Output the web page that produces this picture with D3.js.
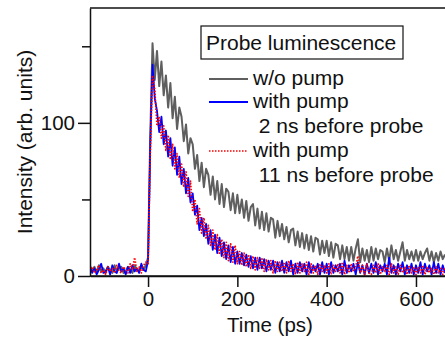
<!DOCTYPE html>
<html>
<head>
<meta charset="utf-8">
<script src="https://cdn.jsdelivr.net/npm/d3@7"></script>
<style>
  body { margin: 0; background: #fff; }
  svg { display: block; font-family: "Liberation Sans", Arial, sans-serif; }
</style>
</head>
<body>
<div class="chart"></div>
<script>

// sample times (ps)
var times = [
  -130,-125,-120,-115,-110,-105,-100,-95,-90,-85,-80,-75,-70,-65,-60,-55,-50,-45,-40,-35,-30,-25,-20,-15,-10,-5,
  0,5,10,15,20,25,30,35,40,45,50,55,60,65,70,75,80,85,90,95,
  100,105,110,115,120,125,130,135,140,145,150,155,160,165,170,175,180,185,190,195,
  200,205,210,215,220,225,230,235,240,245,250,255,260,265,270,275,280,285,290,295,
  300,305,310,315,320,325,330,335,340,345,350,355,360,365,370,375,380,385,390,395,
  400,405,410,415,420,425,430,435,440,445,450,455,460,465,470,475,480,485,490,495,
  500,505,510,515,520,525,530,535,540,545,550,555,560,565,570,575,580,585,590,595,
  600,605,610,615,620,625,630,635,640,645,650,655,660,665
];

// w/o pump
var noPump = [
  4,3,6,2,7,3,5,2,6,4,2,7,3,5,6,2,3,6,4,2,7,4,3,6,4,7,
  12,92,152,128,147,124,140,118,131,110,126,103,117,96,110,104,88,99,80,90,
  86,70,79,62,74,58,70,66,53,65,50,62,47,60,45,57,55,43,54,41,
  53,41,50,38,49,36,45,47,33,44,31,42,30,41,29,38,37,25,36,26,
  34,24,32,22,30,31,20,29,19,28,18,27,17,26,16,25,24,14,23,15,
  23,13,22,12,21,20,11,20,11,19,10,19,10,18,24,9,18,10,17,9,
  19,10,18,11,17,16,9,18,10,20,11,17,10,16,22,10,17,11,16,10,
  17,10,16,11,15,18,10,16,9,15,10,16,11,14
];

// with pump, 2 ns before probe
var pump2ns = [
  7,2,5,1,4,8,2,3,6,1,7,3,2,8,3,5,1,6,2,7,3,5,2,8,4,3,
  10,86,138,116,108,94,104,86,95,78,90,72,84,66,78,60,70,54,64,48,
  54,40,46,30,38,26,34,21,30,17,27,15,25,13,22,11,20,9,19,8,
  16,8,15,7,14,6,13,5,12,4,12,5,11,3,10,4,10,2,9,3,
  10,2,9,3,10,1,8,2,9,3,8,1,9,2,7,3,8,1,9,2,
  8,1,9,2,7,3,8,1,10,2,7,3,8,1,9,2,7,1,8,2,
  8,2,9,1,7,3,8,1,12,2,7,1,8,3,9,1,7,2,8,1,
  7,2,9,1,8,3,7,1,9,2,8,1,7,2
];

// with pump, 11 ns before probe
var pump11ns = [
  3,6,2,4,7,2,4,1,6,3,5,2,7,3,2,6,4,2,8,4,12,3,6,2,7,9,
  8,80,131,122,98,104,90,98,82,92,76,86,70,80,64,73,58,68,52,62,
  42,50,34,44,28,38,24,33,20,30,17,27,14,24,12,22,10,21,9,20,
  8,16,7,15,6,14,5,13,4,12,5,12,3,11,4,10,2,10,3,9,
  3,9,2,10,3,8,1,9,2,8,3,9,1,8,2,7,1,8,3,7,
  2,8,1,7,3,8,2,9,1,7,2,8,3,6,13,2,7,1,8,2,
  1,7,2,8,1,6,3,7,1,8,2,6,1,7,2,6,1,7,2,6,
  1,6,2,7,1,6,2,5,1,6,2,5,1,6
];

var xTicks = [0, 200, 400, 600];
var yTicks = [0, 100];
var yMinorTicks = [50, 150];

var legendTitle = "Probe luminescence";
var legendItems = [
  { label: ["w/o pump"], color: "#5f5f5f", dash: null, width: 2 },
  { label: ["with pump", " 2 ns before probe"], color: "#0000ff", dash: null, width: 2 },
  { label: ["with pump", " 11 ns before probe"], color: "#ff0000", dash: "1.5,1.5", width: 1.5 }
];

var seriesList = [
  { values: noPump, color: "#5f5f5f", dash: null, width: 2 },
  { values: pump2ns, color: "#0000ff", dash: null, width: 1.8 },
  { values: pump11ns, color: "#ff0000", dash: "1.5,1.5", width: 1.7 }
];

var W = 445, H = 339;
var margin = {top: 8, left: 90, bottom: 63};

var svg = d3.select(".chart").append("svg")
    .attr("width", W)
    .attr("height", H);

var x = d3.scaleLinear().domain([-130, 665]).range([margin.left, W]);
var y = d3.scaleLinear().domain([0, 175]).range([H - margin.bottom, margin.top]);

svg.append("defs").append("clipPath").attr("id", "plotclip")
  .append("rect")
    .attr("x", margin.left)
    .attr("y", margin.top)
    .attr("width", W - margin.left)
    .attr("height", y(0) - margin.top);

// traces
var line = d3.line()
    .x(function(d, i) { return x(times[i]); })
    .y(function(d) { return y(d); });

var traces = svg.append("g").attr("clip-path", "url(#plotclip)");

seriesList.forEach(function(s) {
  traces.append("path")
    .attr("d", line(s.values))
    .attr("fill", "none")
    .attr("stroke", s.color)
    .attr("stroke-width", s.width)
    .attr("stroke-linejoin", "round")
    .attr("stroke-dasharray", s.dash);
});

// axes
svg.append("g")
    .attr("transform", "translate(0," + y(0) + ")")
    .call(d3.axisBottom(x).tickValues(xTicks).tickSize(11).tickSizeOuter(0).tickPadding(4));

svg.append("g")
    .attr("transform", "translate(" + margin.left + ",0)")
    .call(d3.axisLeft(y).tickValues(yTicks).tickSize(12).tickSizeOuter(0).tickPadding(3));

svg.append("g")
    .attr("transform", "translate(" + margin.left + ",0)")
    .call(d3.axisLeft(y).tickValues(yMinorTicks).tickSize(8).tickSizeOuter(0).tickFormat(""))
    .select(".domain").remove();

svg.selectAll(".tick text")
    .style("font-size", "20.5px")
    .style("font-family", "Liberation Sans, Arial, sans-serif")
    .attr("fill", "#111");

svg.selectAll(".domain, .tick line")
    .attr("stroke", "#111")
    .attr("stroke-width", 1.5);

// extend x domain line and top frame
svg.append("line")
    .attr("x1", margin.left).attr("x2", W)
    .attr("y1", y(0)).attr("y2", y(0))
    .attr("stroke", "#111").attr("stroke-width", 1.5);

svg.append("line")
    .attr("x1", margin.left).attr("x2", W)
    .attr("y1", margin.top).attr("y2", margin.top)
    .attr("stroke", "#111").attr("stroke-width", 1.5);

// axis titles
svg.append("text")
    .attr("x", 270)
    .attr("y", 332)
    .attr("text-anchor", "middle")
    .style("font-size", "20.5px")
    .attr("fill", "#111")
    .text("Time (ps)");

svg.append("text")
    .attr("transform", "translate(32," + 142 + ") rotate(-90)")
    .attr("text-anchor", "middle")
    .style("font-size", "21px")
    .attr("fill", "#111")
    .text("Intensity (arb. units)");

// legend
var legend = svg.append("g");

legend.append("rect")
    .attr("x", 201).attr("y", 26)
    .attr("width", 202).attr("height", 33)
    .attr("fill", "#fff")
    .attr("stroke", "#111")
    .attr("stroke-width", 1.2);

legend.append("text")
    .attr("x", 206).attr("y", 50)
    .style("font-size", "21px")
    .attr("fill", "#111")
    .text(legendTitle);

var rowY = [79, 102, 151];
legendItems.forEach(function(item, i) {
  legend.append("line")
    .attr("x1", 209).attr("x2", 248)
    .attr("y1", rowY[i]).attr("y2", rowY[i])
    .attr("stroke", item.color)
    .attr("stroke-width", item.width)
    .attr("stroke-dasharray", item.dash);

  item.label.forEach(function(txt, j) {
    legend.append("text")
      .attr("x", 253)
      .attr("y", rowY[i] + 6 + j * 24.5)
      .attr("xml:space", "preserve")
      .style("white-space", "pre")
      .style("font-size", "21px")
      .attr("fill", "#111")
      .text(txt);
  });
});

</script>
</body>
</html>
